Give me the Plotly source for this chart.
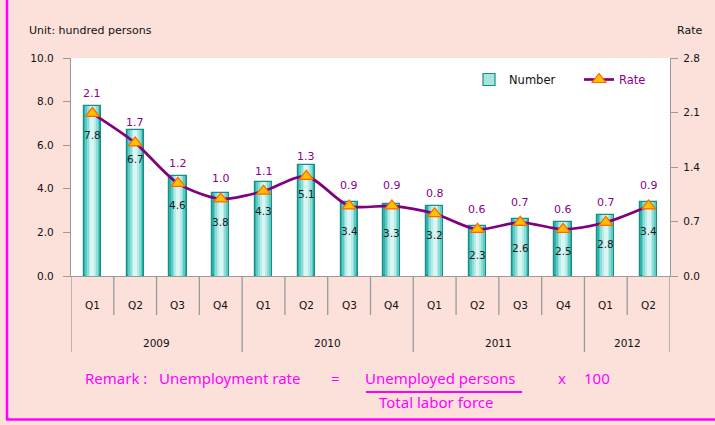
import plotly.graph_objects as go

# ---------------- data ----------------
quarters = ["Q1", "Q2", "Q3", "Q4", "Q1", "Q2", "Q3", "Q4", "Q1", "Q2", "Q3", "Q4", "Q1", "Q2"]
years = ["2009", "2010", "2011", "2012"]
year_quarter_counts = [4, 4, 4, 2]
number = [7.8, 6.7, 4.6, 3.8, 4.3, 5.1, 3.4, 3.3, 3.2, 2.3, 2.6, 2.5, 2.8, 3.4]
rate = [2.09, 1.71, 1.19, 0.99, 1.09, 1.28, 0.90, 0.90, 0.80, 0.60, 0.69, 0.60, 0.69, 0.90]
left_ticks = [0.0, 2.0, 4.0, 6.0, 8.0, 10.0]
right_ticks = [0.0, 0.7, 1.4, 2.1, 2.8]

# ---------------- layout constants ----------------
W, H = 715, 425
L, R, T, B = 71, 45, 58, 149
PW, PH = W - L - R, H - T - B
BG = "#FCE0DA"
MAG = "#FF00FF"
FONT = "DejaVu Sans"
GRAY = "#9A9A9A"


def px(x):
    return (x - L) / PW


def py(y):
    return (T + PH - y) / PH


x = list(range(len(number)))

fig = go.Figure()

# cylinder-like bars built from overlaid layers
layers = [
    (0.40, "#2BB3AB", "#168F88", 1.2),
    (0.33, "#5BCBC4", None, 0),
    (0.25, "#8CDCD7", None, 0),
    (0.17, "#B8EBE8", None, 0),
    (0.09, "#DAF6F4", None, 0),
]
for i, (w, c, lc, lw) in enumerate(layers):
    fig.add_trace(go.Bar(
        x=x, y=number, width=w,
        marker=dict(color=c, line=dict(color=lc or c, width=lw)),
        showlegend=False, hoverinfo="skip", yaxis="y",
    ))

# legend-only entry for bars
fig.add_trace(go.Bar(
    x=[None], y=[None], name="Number",
    marker=dict(color="#A6E4E0", line=dict(color="#168F88", width=1.2)),
    showlegend=True, yaxis="y",
))

fig.add_trace(go.Scatter(
    x=x, y=rate, yaxis="y2", mode="lines+markers",
    name='<span style="color:#8B008B">Rate</span>',
    line=dict(color="#800080", width=2.7, shape="spline", smoothing=0.8),
    marker=dict(symbol="triangle-up", size=12, color="#FFC000",
                line=dict(color="#FF6600", width=1.2)),
))

annotations = []
shapes = []

# value labels
for xi, v in zip(x, number):
    annotations.append(dict(x=xi, y=v, xref="x", yref="y", text=f"{v:.1f}",
                            showarrow=False, yshift=-29,
                            font=dict(family=FONT, size=10.5, color="#1a1a1a")))
for xi, v in zip(x, rate):
    annotations.append(dict(x=xi, y=v, xref="x", yref="y2", text=f"{v:.1f}",
                            showarrow=False, yshift=20,
                            font=dict(family=FONT, size=11, color="#8B008B")))

# category labels and dividers
for i, q in enumerate(quarters):
    annotations.append(dict(x=i, y=py(305), xref="x", yref="paper", text=q,
                            showarrow=False, yanchor="middle",
                            font=dict(family=FONT, size=10.5, color="#111")))
year_bounds = [0]
for c in year_quarter_counts:
    year_bounds.append(year_bounds[-1] + c)
for j, yr in enumerate(years):
    cx = (year_bounds[j] + year_bounds[j + 1] - 1) / 2
    annotations.append(dict(x=cx, y=py(343), xref="x", yref="paper", text=yr,
                            showarrow=False, yanchor="middle",
                            font=dict(family=FONT, size=10.5, color="#111")))
for b in range(len(quarters) + 1):
    bottom = py(352) if b in year_bounds else py(315)
    shapes.append(dict(type="line", xref="x", yref="paper", x0=b - 0.5, x1=b - 0.5,
                       y0=0, y1=bottom, line=dict(color=GRAY, width=1.3)))

# titles
annotations.append(dict(x=px(27), y=py(31), xref="paper", yref="paper",
                        text="Unit: hundred persons", showarrow=False,
                        xanchor="left", yanchor="middle",
                        font=dict(family=FONT, size=11, color="#111")))
annotations.append(dict(x=px(704), y=py(31), xref="paper", yref="paper",
                        text="Rate", showarrow=False,
                        xanchor="right", yanchor="middle",
                        font=dict(family=FONT, size=11, color="#111")))

# remark
RF = dict(family="Noto Sans", size=15, color=MAG)
for txt, xx, yy in [("Remark :", 83, 378), ("Unemployment rate", 157, 378), ("=", 329, 378),
                    ("Unemployed persons", 363, 378), ("x", 556, 378), ("100", 582, 378),
                    ("Total labor force", 377, 402)]:
    annotations.append(dict(x=px(xx), y=py(yy), xref="paper", yref="paper", text=txt,
                            showarrow=False, xanchor="left", yanchor="middle", font=RF))
shapes.append(dict(type="line", xref="paper", yref="paper", x0=px(366), x1=px(522),
                   y0=py(392), y1=py(392), line=dict(color=MAG, width=2)))

# frame border (left and bottom visible)
shapes.append(dict(type="line", xref="paper", yref="paper", x0=px(7), x1=px(7),
                   y0=py(-5), y1=py(419.5), line=dict(color=MAG, width=2.5)))
shapes.append(dict(type="line", xref="paper", yref="paper", x0=px(6), x1=px(720),
                   y0=py(419.5), y1=py(419.5), line=dict(color=MAG, width=2.5)))

fig.update_layout(
    width=W, height=H,
    margin=dict(l=L, r=R, t=T, b=B, autoexpand=False),
    paper_bgcolor=BG, plot_bgcolor="white",
    barmode="overlay", bargap=0,
    font=dict(family=FONT, size=10.5, color="#111"),
    xaxis=dict(range=[-0.5, len(number) - 0.5], showticklabels=False, ticks="",
               showgrid=False, zeroline=False, showline=True, linecolor=GRAY,
               linewidth=1.3, fixedrange=True, automargin=False),
    yaxis=dict(range=[0, 10], tickvals=left_ticks,
               ticktext=[f"{v:.1f}" for v in left_ticks],
               showgrid=False, zeroline=False, showline=True, linecolor=GRAY,
               linewidth=1.3, ticks="outside", ticklen=7, tickcolor=GRAY, automargin=False,
               ticklabelstandoff=7,
               tickwidth=1.3, tickfont=dict(family=FONT, size=10.5, color="#111")),
    yaxis2=dict(range=[0, 2.8], tickvals=right_ticks,
                ticktext=[f"{v:.1f}" for v in right_ticks],
                overlaying="y", side="right", automargin=False,
                ticklabelstandoff=3,
                showgrid=False, zeroline=False, showline=True, linecolor=GRAY,
                linewidth=1.3, ticks="outside", ticklen=7, tickcolor=GRAY,
                tickwidth=1.3, tickfont=dict(family=FONT, size=10.5, color="#111")),
    legend=dict(orientation="h", x=px(469), y=py(65), xanchor="left", yanchor="top",
                bgcolor="rgba(0,0,0,0)", font=dict(family=FONT, size=11.5, color="#111"),
                entrywidth=65, entrywidthmode="pixels", traceorder="normal"),
    annotations=annotations, shapes=shapes,
    showlegend=True,
)

fig.write_html("out.html", config={"displayModeBar": False},
               post_script="document.body.style.margin='0';")
